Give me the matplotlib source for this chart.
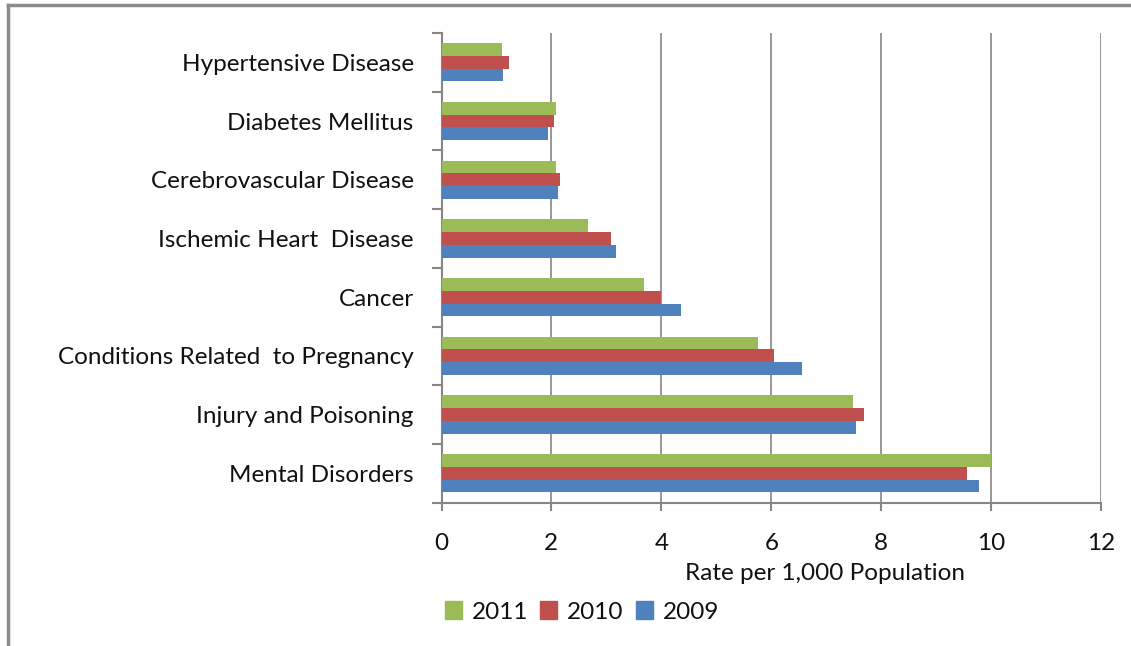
import matplotlib.pyplot as plt
from matplotlib.lines import Line2D
from matplotlib.patches import Patch
import numpy as np

plt.rcParams['font.family'] = ['Lato', 'DejaVu Sans']

# bottom to top, as drawn on the y axis
categories = ['Mental Disorders', 'Injury and Poisoning', 'Conditions Related  to Pregnancy',
              'Cancer', 'Ischemic Heart  Disease', 'Cerebrovascular Disease',
              'Diabetes Mellitus', 'Hypertensive Disease']
rate_2011 = [10.0, 7.49, 5.75, 3.68, 2.66, 2.08, 2.08, 1.10]
rate_2010 = [9.57, 7.68, 6.05, 4.00, 3.08, 2.15, 2.05, 1.22]
rate_2009 = [9.78, 7.54, 6.56, 4.36, 3.17, 2.12, 1.94, 1.12]

green = '#9BBB59'
red = '#C0504D'
blue = '#4F81BD'
axis_grey = '#868686'
text_col = '#111111'
fs = 17.5

W, H = 1131, 646
fig = plt.figure(figsize=(W / 100, H / 100), dpi=100)
ax = fig.add_axes([441.5 / W, 1 - 502.6 / H, (1101 - 441.5) / W, (502.6 - 33) / H])

y = np.arange(len(categories))
h = 0.217
ax.barh(y + h, rate_2011, height=h, color=green, zorder=3, label='2011')
ax.barh(y, rate_2010, height=h, color=red, zorder=3, label='2010')
ax.barh(y - h, rate_2009, height=h, color=blue, zorder=3, label='2009')

ax.set_xlim(0, 12)
ax.set_ylim(-0.5, len(categories) - 0.5)
ax.set_xticks(np.arange(0, 13, 2))
ax.set_yticks(y)
ax.set_yticklabels(categories)
ax.set_yticks(np.arange(-0.5, len(categories), 1), minor=True)

ax.grid(axis='x', color=axis_grey, linewidth=1.2, zorder=0)
for s in ['top', 'right']:
    ax.spines[s].set_visible(False)
for s in ['left', 'bottom']:
    ax.spines[s].set_color(axis_grey)
    ax.spines[s].set_linewidth(1.5)

ax.tick_params(axis='y', which='major', length=0, pad=20, labelsize=fs, labelcolor=text_col)
ax.tick_params(axis='y', which='minor', length=7, width=1.5, color=axis_grey)
ax.tick_params(axis='x', length=6, width=1.5, color=axis_grey, pad=16, labelsize=fs,
               labelcolor=text_col)

fig.text(825 / W, 1 - 574 / H, 'Rate per 1,000 Population', ha='center', va='center',
         fontsize=fs, color=text_col)

handles = [Patch(color=green), Patch(color=red), Patch(color=blue)]
fig.legend(handles, ['2011', '2010', '2009'], loc='center', ncol=3,
           bbox_to_anchor=(582 / W, 1 - 612 / H), frameon=False, fontsize=fs,
           handlelength=0.7, handleheight=0.7, handletextpad=0.4, columnspacing=0.5,
           labelcolor=text_col)

# outer frame of the exported chart
fig.add_artist(Line2D([8 / W, 1], [1 - 5 / H, 1 - 5 / H], transform=fig.transFigure,
                      color='#8c8c8c', linewidth=2.5))
fig.add_artist(Line2D([8 / W, 8 / W], [0, 1 - 5 / H], transform=fig.transFigure,
                      color='#8c8c8c', linewidth=2.5))

fig.savefig('out.png', dpi=100)
